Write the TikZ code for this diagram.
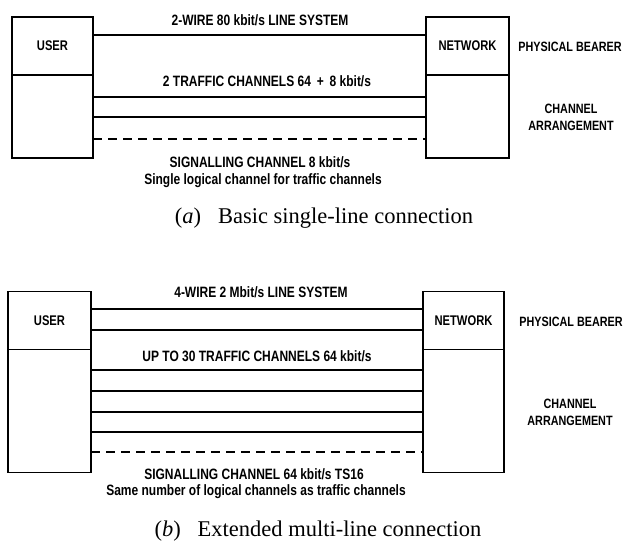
\documentclass[tikz,border=0pt]{standalone}
\usepackage{fontspec}
\setmainfont{Liberation Serif}
\newfontfamily\lblfont[FakeStretch=0.8]{Liberation Sans}
\tikzset{
  x=1pt, y=-1pt,
  wire/.style={line width=1.2pt},
  sigwire/.style={line width=1.2pt, dash pattern=on 9pt off 6pt},
  half/.style={draw, line width=1.2pt, inner sep=0pt, outer sep=0pt, anchor=north west,
               font=\lblfont\bfseries\fontsize{14}{16}\selectfont},
  lbl/.style={font=\lblfont\bfseries\fontsize{15}{16}\selectfont, inner sep=0pt},
  tag/.style={font=\lblfont\bfseries\fontsize{13.5}{17}\selectfont, inner sep=0pt, align=center},
  captext/.style={font=\fontsize{22.5}{26}\selectfont, inner sep=0pt}
}
\begin{document}
\begin{tikzpicture}
\useasboundingbox (0,0) rectangle (628,551);

% ---------- (a) basic single-line connection ----------
\node[half, minimum width=81pt, minimum height=58pt] (userA) at (12,17) {USER};
\node[half, minimum width=81pt, minimum height=83pt] (userAlow) at (12,75) {};
\node[half, minimum width=83pt, minimum height=58pt] (netA) at (426,17) {NETWORK};
\node[half, minimum width=83pt, minimum height=83pt] (netAlow) at (426,75) {};

\draw[wire] (userA.east |- 0,35) -- (netA.west |- 0,35);
\draw[wire] (userAlow.east |- 0,97) -- (netAlow.west |- 0,97);
\draw[wire] (userAlow.east |- 0,117) -- (netAlow.west |- 0,117);
\draw[sigwire] (userAlow.east |- 0,139) -- (netAlow.west |- 0,139);

\node[lbl] (lineA) at (260,20) {2-WIRE 80 kbit/s LINE SYSTEM};
\node[lbl] (trafA) at (267,81) {2 TRAFFIC CHANNELS 64 \,+\, 8 kbit/s};
\node[lbl] (sigA) at (260,162) {SIGNALLING CHANNEL 8 kbit/s};
\node[lbl] (sigAnote) at (263,181) {Single logical channel for traffic channels};

\node[tag] (bearA) at (570,47) {PHYSICAL BEARER};
\node[tag] (chanA) at (571,117) {CHANNEL\\ARRANGEMENT};

\node[captext] (capA) at (324,218) {(\textit{a})\hspace{0.5em} Basic single-line connection};

% ---------- (b) extended multi-line connection ----------
\node[half, minimum width=83pt, minimum height=58pt] (userB) at (8,291.5) {USER};
\node[half, minimum width=83pt, minimum height=123pt] (userBlow) at (8,349.5) {};
\node[half, minimum width=81pt, minimum height=58pt] (netB) at (423,291.5) {NETWORK};
\node[half, minimum width=81pt, minimum height=123pt] (netBlow) at (423,349.5) {};

\draw[wire] (userB.east |- 0,309) -- (netB.west |- 0,309);
\draw[wire] (userB.east |- 0,330) -- (netB.west |- 0,330);
\draw[wire] (userBlow.east |- 0,370) -- (netBlow.west |- 0,370);
\draw[wire] (userBlow.east |- 0,391) -- (netBlow.west |- 0,391);
\draw[wire] (userBlow.east |- 0,412) -- (netBlow.west |- 0,412);
\draw[wire] (userBlow.east |- 0,432) -- (netBlow.west |- 0,432);
\draw[sigwire] (userBlow.east |- 0,452) -- (netBlow.west |- 0,452);

\node[lbl] (lineB) at (261,292) {4-WIRE 2 Mbit/s LINE SYSTEM};
\node[lbl] (trafB) at (257,356) {UP TO 30 TRAFFIC CHANNELS 64 kbit/s};
\node[lbl] (sigB) at (254,474) {SIGNALLING CHANNEL 64 kbit/s TS16};
\node[lbl] (sigBnote) at (256,492) {Same number of logical channels as traffic channels};

\node[tag] (bearB) at (571,322) {PHYSICAL BEARER};
\node[tag] (chanB) at (570,412) {CHANNEL\\ARRANGEMENT};

\node[captext] (capB) at (318,531) {(\textit{b})\hspace{0.5em} Extended multi-line connection};
\end{tikzpicture}
\end{document}
